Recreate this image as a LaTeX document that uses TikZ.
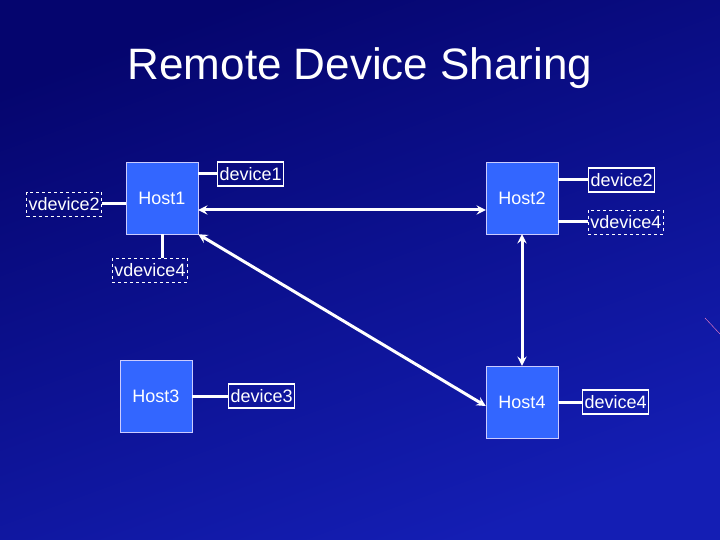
\documentclass[tikz,border=0pt]{standalone}
\usepackage{fontspec}
\setmainfont{Liberation Sans}
\begin{document}
\begin{tikzpicture}[x=1pt,y=-1pt,
  host/.style={draw=white!80!blue,fill={rgb,255:red,51;green,102;blue,255},minimum width=72pt,minimum height=72pt,inner sep=0pt,text=white,font=\fontsize{18}{20}\selectfont},
  dev/.style={draw=white,line width=1.2pt,inner sep=2pt,text=white,font=\fontsize{18}{20}\selectfont,minimum height=24pt},
  vdev/.style={dev,dashed,line width=0.8pt},
  ln/.style={white,line width=3pt},
  arr/.style={white,line width=3pt,<->,>=stealth}]
\shade[top color={rgb,255:red,5;green,5;blue,110},bottom color={rgb,255:red,20;green,30;blue,180},shading angle=20] (0,0) rectangle (720,540);
\useasboundingbox (0,0) rectangle (720,540);
\draw[magenta!50!white,thin] (705,318) -- (720,334);
\node[text=white,font=\fontsize{44}{48}\selectfont] (title) at (360,68) {Remote Device Sharing};
\node[host] (h1) at (162,198) {Host1};
\node[host] (h2) at (522,198) {Host2};
\node[host] (h3) at (156,396) {Host3};
\node[host] (h4) at (522,402) {Host4};
\node[dev,anchor=west] (d1) at (217,174) {device1};
\node[vdev,anchor=east] (v2) at (102,204) {vdevice2};
\node[vdev] (v4a) at (150,270) {vdevice4};
\node[dev,anchor=west] (d2) at (588,180) {device2};
\node[vdev,anchor=west] (v4b) at (588,222) {vdevice4};
\node[dev,anchor=west] (d3) at (228,396) {device3};
\node[dev,anchor=west] (d4) at (582,402) {device4};
\draw[ln] (h1.east|-d1.west) -- (d1.west);
\draw[ln] (v2.east) -- (h1.west|-v2.east);
\draw[ln] (h1.south) -- (h1.south|-v4a.north);
\draw[ln] (h2.east|-d2.west) -- (d2.west);
\draw[ln] (h2.east|-v4b.west) -- (v4b.west);
\draw[ln] (h3.east) -- (d3.west);
\draw[ln] (h4.east) -- (d4.west);
\draw[arr] (h1.east|-0,210) -- (h2.west|-0,210);
\draw[arr] (h1.south east) -- (h4.west|-0,406);
\draw[arr] (h2.south) -- (h4.north);
\end{tikzpicture}
\end{document}
